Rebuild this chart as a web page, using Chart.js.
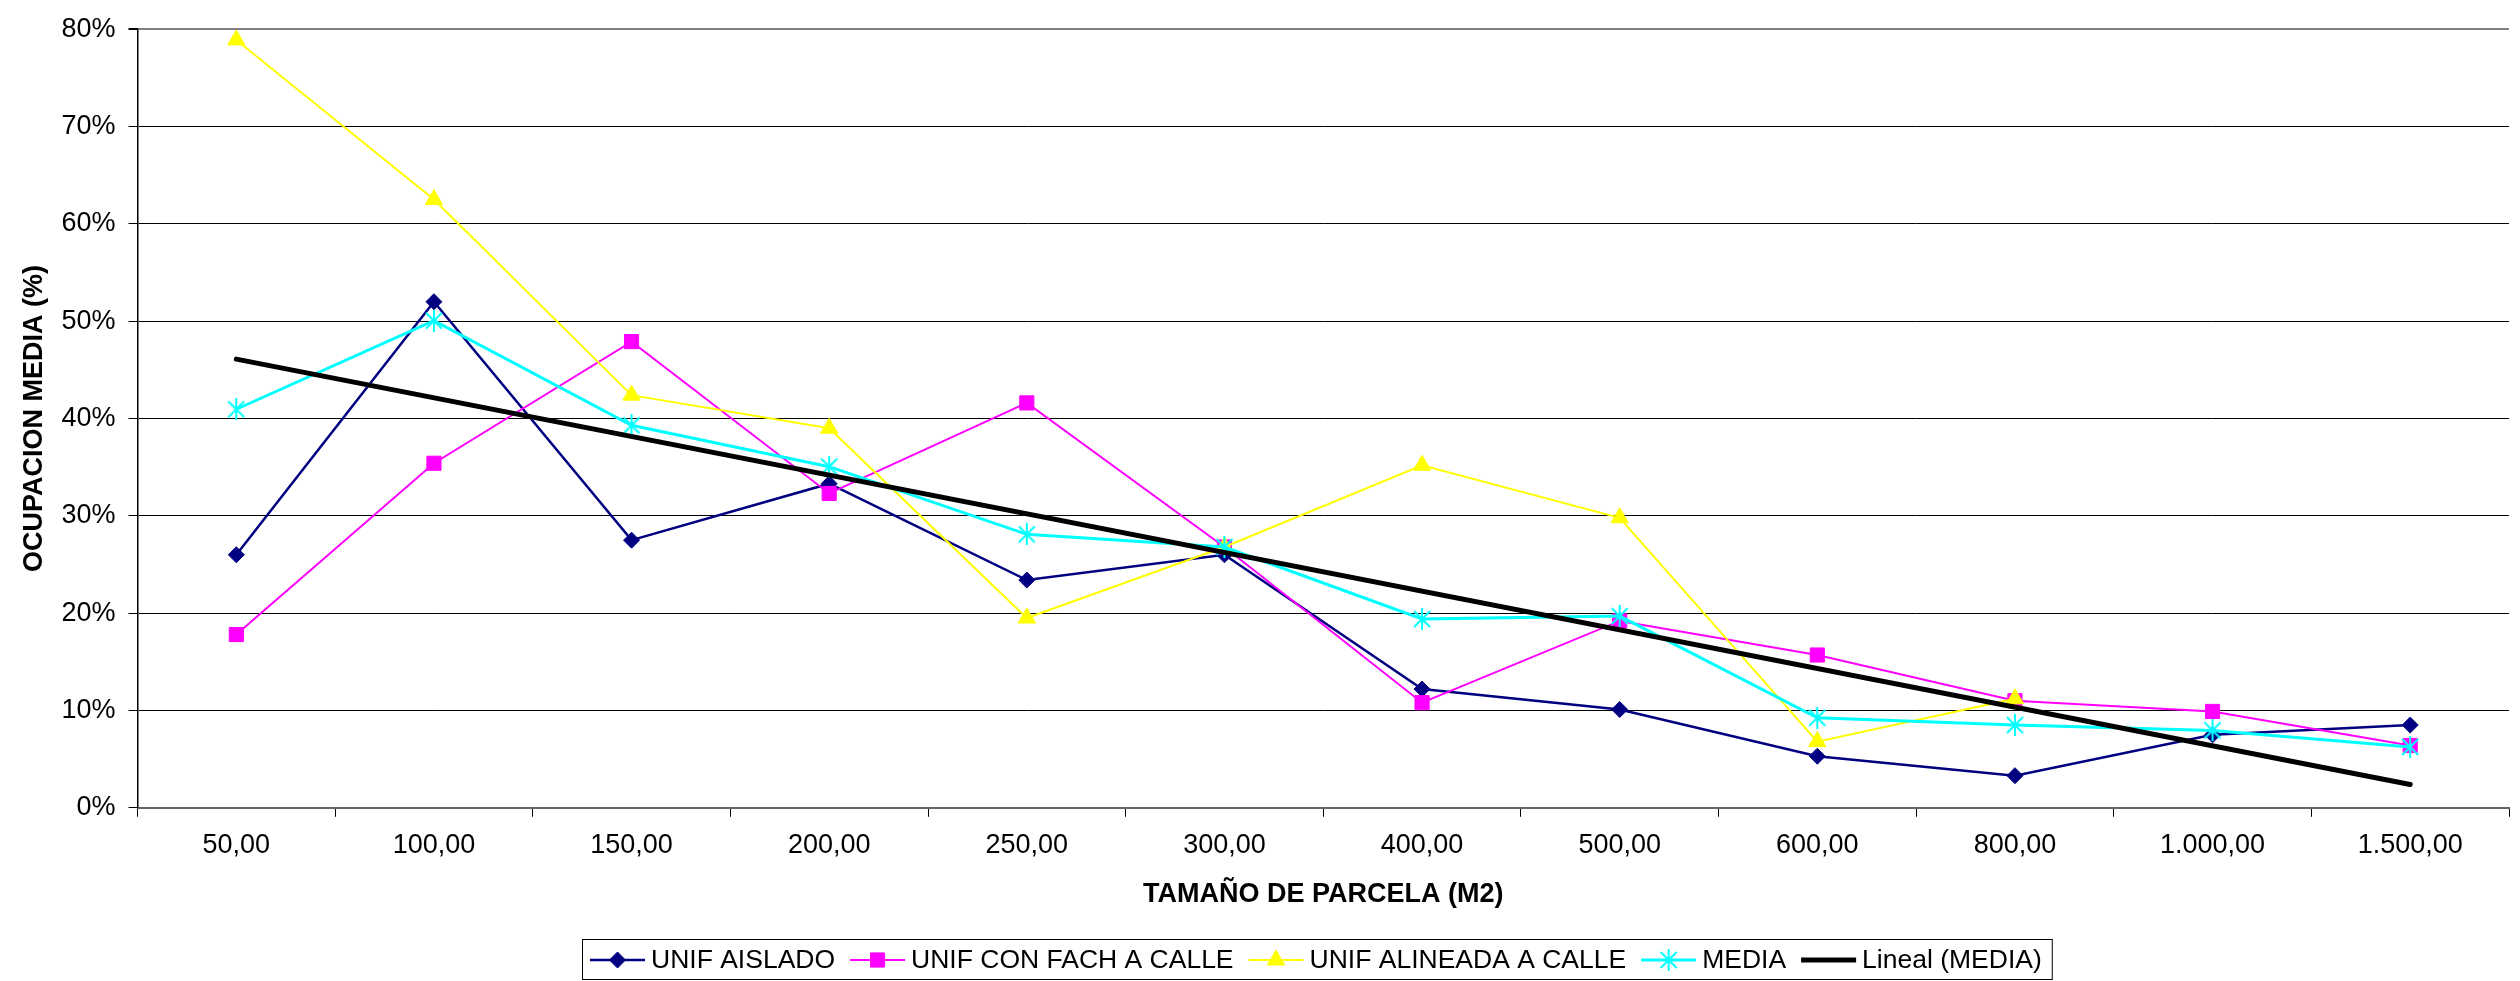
<!DOCTYPE html>
<html>
<head>
<meta charset="utf-8">
<script src="https://cdn.jsdelivr.net/npm/chart.js@4.4.1/dist/chart.umd.min.js"></script>
<style>
  html, body { margin: 0; padding: 0; background: #ffffff; }
  #wrap { width: 2520px; height: 981px; position: relative; }
  canvas { display: block; }
</style>
</head>
<body>
<div id="wrap"><canvas id="c" width="2520" height="981"></canvas></div>
<script>
// ---- DATA ----
const categories = ['50,00', '100,00', '150,00', '200,00', '250,00', '300,00', '400,00', '500,00', '600,00', '800,00', '1.000,00', '1.500,00'];
const unifAislado = [0.260, 0.520, 0.275, 0.333, 0.234, 0.260, 0.122, 0.101, 0.053, 0.033, 0.075, 0.085];
const unifConFach = [0.178, 0.354, 0.479, 0.323, 0.416, 0.268, 0.108, 0.192, 0.157, 0.110, 0.099, 0.064];
const unifAlineada = [0.789, 0.625, 0.424, 0.390, 0.195, 0.268, 0.352, 0.298, 0.068, 0.112, null, null];
const media = [0.4095, 0.5005, 0.393, 0.3505, 0.281, 0.268, 0.194, 0.197, 0.0925, 0.085, 0.0795, 0.0625];
const linealMedia = [0.461, null, null, null, null, null, null, null, null, null, null, 0.024];
const yTicks = [0, 0.1, 0.2, 0.3, 0.4, 0.5, 0.6, 0.7, 0.8];
const seriesNames = ['UNIF AISLADO', 'UNIF CON FACH A CALLE', 'UNIF ALINEADA A CALLE', 'MEDIA', 'Lineal (MEDIA)'];

const FONT = "'Liberation Sans', Arial, sans-serif";

// custom asterisk-like marker (X with vertical bar) for MEDIA
function makeStar(color) {
  const c = document.createElement('canvas');
  c.width = 20; c.height = 22;
  const g = c.getContext('2d');
  g.strokeStyle = color; g.lineWidth = 2;
  g.beginPath();
  g.moveTo(2, 3); g.lineTo(18, 19);
  g.moveTo(18, 3); g.lineTo(2, 19);
  g.moveTo(10, 0); g.lineTo(10, 22);
  g.stroke();
  return c;
}
const starImg = makeStar('#00FFFF');

const styles = [
  { color: '#000080', width: 2.5, point: 'rectRot', radius: 8 },
  { color: '#FF00FF', width: 2, point: 'rect', radius: 10 },
  { color: '#FFFF00', width: 2, point: 'triangle', radius: 10 },
  { color: '#00FFFF', width: 3, point: starImg, radius: 9 },
  { color: '#000000', width: 5, point: false, radius: 0 }
];
const seriesData = [unifAislado, unifConFach, unifAlineada, media, linealMedia];

const datasets = seriesData.map((d, i) => ({
  label: seriesNames[i],
  data: d,
  borderColor: styles[i].color,
  backgroundColor: styles[i].color,
  borderWidth: styles[i].width,
  pointStyle: styles[i].point,
  pointRadius: styles[i].radius,
  pointBorderWidth: 1,
  pointBorderColor: styles[i].color,
  pointBackgroundColor: styles[i].color,
  tension: 0,
  spanGaps: i === 4,
  order: 5 - i,
  borderCapStyle: i === 4 ? 'round' : 'butt'
}));

// custom legend drawn on the canvas
const legendPlugin = {
  id: 'customLegend',
  afterDraw(chart) {
    const ctx = chart.ctx;
    ctx.save();
    ctx.font = '26.5px ' + FONT;
    ctx.textBaseline = 'middle';
    ctx.textAlign = 'left';
    const boxL = 582, boxT = 939, boxB = 980;
    // measure total width
    let total = 8;
    seriesNames.forEach((n, i) => { total += 61 + ctx.measureText(n).width + (i < seriesNames.length - 1 ? 15 : 11); });
    const boxR = boxL + total;
    ctx.fillStyle = '#ffffff';
    ctx.fillRect(boxL, boxT, boxR - boxL, boxB - boxT);
    ctx.strokeStyle = '#000000';
    ctx.lineWidth = 1;
    ctx.strokeRect(boxL + 0.5, boxT + 0.5, boxR - boxL - 1, boxB - boxT - 1);
    const cy = 960;
    let x = boxL + 8;
    for (let i = 0; i < seriesNames.length; i++) {
      const s = styles[i];
      ctx.strokeStyle = s.color;
      ctx.fillStyle = s.color;
      ctx.lineWidth = s.width;
      ctx.beginPath();
      ctx.moveTo(x, cy); ctx.lineTo(x + 55, cy);
      ctx.stroke();
      if (s.point) {
        ctx.lineWidth = 1;
        Chart.helpers.drawPoint(ctx, { pointStyle: s.point, radius: s.radius, rotation: 0, borderWidth: 1 }, x + 27.5, cy);
      }
      ctx.fillStyle = '#000000';
      ctx.fillText(seriesNames[i], x + 61, cy + 1);
      x = x + 61 + ctx.measureText(seriesNames[i]).width + 15;
    }
    ctx.restore();
  }
};

const bgPlugin = {
  id: 'bg',
  beforeDraw(chart) {
    const ctx = chart.ctx;
    ctx.save();
    ctx.fillStyle = '#ffffff';
    ctx.fillRect(0, 0, chart.width, chart.height);
    ctx.restore();
  }
};

new Chart(document.getElementById('c'), {
  type: 'line',
  data: { labels: categories, datasets },
  plugins: [bgPlugin, legendPlugin],
  options: {
    responsive: false,
    devicePixelRatio: 1,
    animation: false,
    layout: { padding: { left: 0, right: 0, top: 25, bottom: 70 } },
    plugins: {
      legend: { display: false },
      tooltip: { enabled: false },
      title: { display: false }
    },
    scales: {
      x: {
        type: 'category',
        offset: true,
        afterFit(scale) { scale.height = 103.2; },
        grid: {
          offset: true,
          drawOnChartArea: false,
          drawTicks: true,
          tickLength: 9,
          tickColor: '#000000',
          tickWidth: 1
        },
        border: { display: true, color: '#666666', width: 2 },
        ticks: {
          color: '#000000',
          font: { family: FONT, size: 27 },
          padding: 13,
          maxRotation: 0,
          autoSkip: false
        },
        title: {
          display: true,
          text: 'TAMAÑO DE PARCELA (M2)',
          color: '#000000',
          font: { family: FONT, size: 27, weight: 'bold', lineHeight: 1.2 },
          padding: { top: 0, bottom: 0 }
        }
      },
      y: {
        min: 0,
        max: 0.8,
        afterFit(scale) { scale.width = 137.5; },
        afterBuildTicks(scale) { scale.ticks = yTicks.map(v => ({ value: v })); },
        grid: {
          color: ctx => (ctx.tick && ctx.tick.value >= 0.8 - 1e-9) ? '#808080' : '#000000',
          lineWidth: ctx => (ctx.tick && ctx.tick.value >= 0.8 - 1e-9) ? 2 : 1,
          tickLength: 9,
          tickColor: '#000000',
          drawTicks: true
        },
        border: { display: true, color: '#000000', width: 1.5 },
        ticks: {
          color: '#000000',
          font: { family: FONT, size: 27 },
          padding: 13,
          callback: v => Math.round(v * 100) + '%'
        },
        title: {
          display: true,
          text: 'OCUPACION MEDIA (%)',
          color: '#000000',
          font: { family: FONT, size: 27, weight: 'bold', lineHeight: 1.2 },
          padding: { top: 18, bottom: 0 }
        }
      }
    }
  }
});
</script>
</body>
</html>
